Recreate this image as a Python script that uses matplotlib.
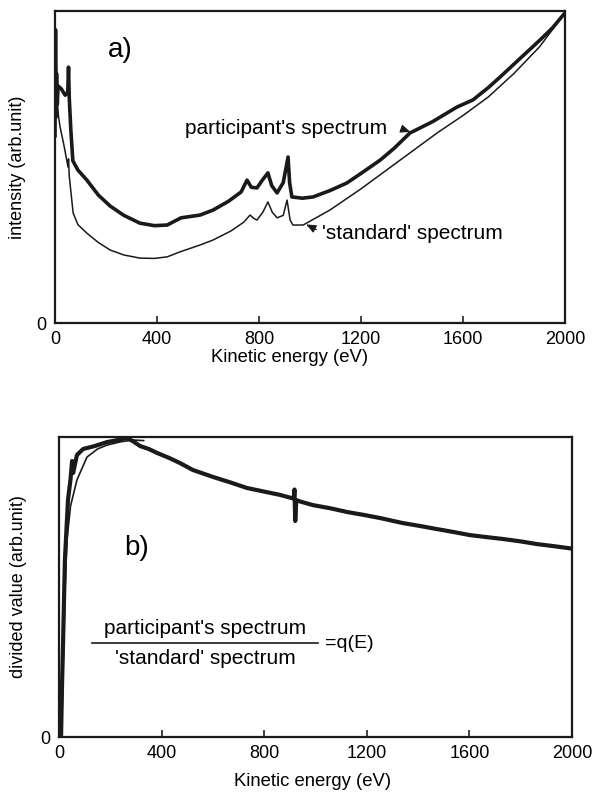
import matplotlib.pyplot as plt
import numpy as np

plt.rcParams['font.family'] = ['Liberation Sans', 'DejaVu Sans']

# panel a) participant's spectrum (thick, noisy)
e_part = [0, 2, 4, 6, 9, 12, 25, 40, 50, 53, 56, 62, 70, 90, 125, 170, 216, 270, 333,
          390, 440, 494, 569, 620, 680, 730, 753, 770, 792, 815, 835, 850, 871, 895, 914,
          920, 929, 970, 1012, 1080, 1145, 1210, 1275, 1330, 1392, 1480, 1576, 1639,
          1700, 1745, 1820, 1902, 1950, 2000]
i_part = [60, 94, 66, 80, 70, 76, 75, 73, 74, 82, 72, 62, 52, 49, 45.8, 41, 37.5, 34.5, 32,
          31.2, 31.4, 33.7, 34.6, 36.2, 39, 42, 45.8, 43.5, 43.3, 46, 48.1, 44, 41.7, 45, 53.2,
          45, 40.4, 40, 40.4, 42.5, 44.9, 48.5, 52.2, 56, 60.9, 64.5, 69.2, 71.5,
          75.5, 78.8, 84.5, 90.7, 94.5, 99.4]

# panel a) 'standard' spectrum (thin)
e_std = [3, 8, 14, 20, 35, 51, 53, 56, 65, 71, 90, 125, 170, 216, 270, 333, 390, 440, 490,
         569, 620, 690, 740, 765, 780, 792, 815, 835, 852, 871, 895, 910, 922, 933, 973,
         1078, 1200, 1300, 1400, 1500, 1600, 1700, 1800, 1900, 2000]
i_std = [92, 72, 66, 62.8, 57, 50, 52.6, 47, 40, 35.3, 31.5, 28.8, 25.8, 23.4, 21.8, 20.8, 20.7,
         21.2, 22.8, 25, 26.6, 29.5, 32.3, 34.6, 33.5, 33, 35.5, 38.8, 35.5, 33.7, 34.5, 39.4,
         33, 31.4, 31.4, 36.2, 43, 49, 55, 61, 66.5, 72.5, 80, 88.5, 99.4]

# panel b) divided value q(E) (thick, noisy)
e_q = [0, 8, 12, 16, 23, 35, 45, 51, 55, 70, 94, 140, 187, 230, 265, 290, 316, 350, 382,
       430, 472, 522, 600, 670, 733, 800, 862, 900, 915, 918, 921, 925, 940, 990, 1060,
       1123, 1190, 1251, 1341, 1410, 1474, 1540, 1602, 1670, 1731, 1800, 1864, 1930, 2000]
v_q = [0, 0, 18, 32, 59, 79, 86, 92, 88, 94, 96, 97, 98.3, 99, 99.7, 98.5, 97, 96, 94.7,
       93, 91.3, 89, 86.7, 84.8, 83, 81.8, 80.7, 79.8, 79.5, 82.5, 72, 79, 78.5, 77.3, 76.2,
       75, 74, 73, 71.3, 70.3, 69.3, 68.3, 67.3, 66.6, 66, 65.2, 64.3, 63.6, 62.8]

# panel b) smooth curve
e_fit = [8, 12, 18, 24, 31, 45, 70, 109, 150, 187, 240, 289, 330]
v_fit = [0, 8, 30, 50, 65.7, 77, 85.7, 93.3, 96, 97.3, 98.4, 99, 98.8]

xticks = [0, 400, 800, 1200, 1600, 2000]

fig = plt.figure(figsize=(5.93, 7.96), dpi=100)
ax1 = fig.add_axes([55 / 593, 1 - 323 / 796, 510 / 593, 312 / 796])
ax2 = fig.add_axes([59 / 593, 1 - 737 / 796, 513 / 593, 300 / 796])

for ax in (ax1, ax2):
    ax.set_xlim(0, 2000)
    ax.set_ylim(0, 100)
    ax.set_xticks(xticks)
    ax.set_yticks([0])
    ax.tick_params(direction='in', length=5, width=1.2, labelsize=13, pad=6, color='#222')
    ax.tick_params(axis='y', length=0, pad=6)
    for s in ax.spines.values():
        s.set_linewidth(1.6)
        s.set_color('#1a1a1a')

ax1.plot(e_std, i_std, color='#1a1a1a', lw=1.1)
ax1.plot(e_part, i_part, color='#1a1a1a', lw=2.6)
ax1.text(255, 87.5, 'a)', fontsize=20, ha='center', va='center')
ax1.text(510, 62.5, "participant's spectrum", fontsize=15, va='center')
ax1.annotate('', xy=(1404, 60.9), xytext=(1350, 62.5),
             arrowprops=dict(arrowstyle='-|>,head_length=0.6,head_width=0.25', color='#1a1a1a', lw=0.8))
ax1.text(1047, 28.8, "'standard' spectrum", fontsize=15, va='center')
ax1.annotate('', xy=(975, 32), xytext=(1035, 29.5),
             arrowprops=dict(arrowstyle='-|>,head_length=0.6,head_width=0.25', color='#1a1a1a', lw=0.8))
ax1.set_xlabel('Kinetic energy (eV)', fontsize=13.3)
ax1.xaxis.set_label_coords(0.46, -0.082)
ax1.set_ylabel('intensity (arb.unit)', fontsize=13)
ax1.yaxis.set_label_coords(-0.056, 0.5)

ax2.plot(e_fit, v_fit, color='#1a1a1a', lw=1.2)
ax2.plot(e_q, v_q, color='#1a1a1a', lw=3)
ax2.text(304, 63, 'b)', fontsize=20, ha='center', va='center')
ax2.text(570, 36.3, "participant's spectrum", fontsize=15, ha='center', va='center')
ax2.plot([129, 1010], [31.3, 31.3], color='#1a1a1a', lw=1.2)
ax2.text(570, 26.3, "'standard' spectrum", fontsize=15, ha='center', va='center')
ax2.text(1037, 31, '=q(E)', fontsize=14, va='center')
ax2.set_xlabel('Kinetic energy (eV)', fontsize=13.3)
ax2.xaxis.set_label_coords(0.495, -0.12)
ax2.set_ylabel('divided value (arb.unit)', fontsize=13)
ax2.yaxis.set_label_coords(-0.062, 0.5)

fig.savefig('out.png', dpi=100)
